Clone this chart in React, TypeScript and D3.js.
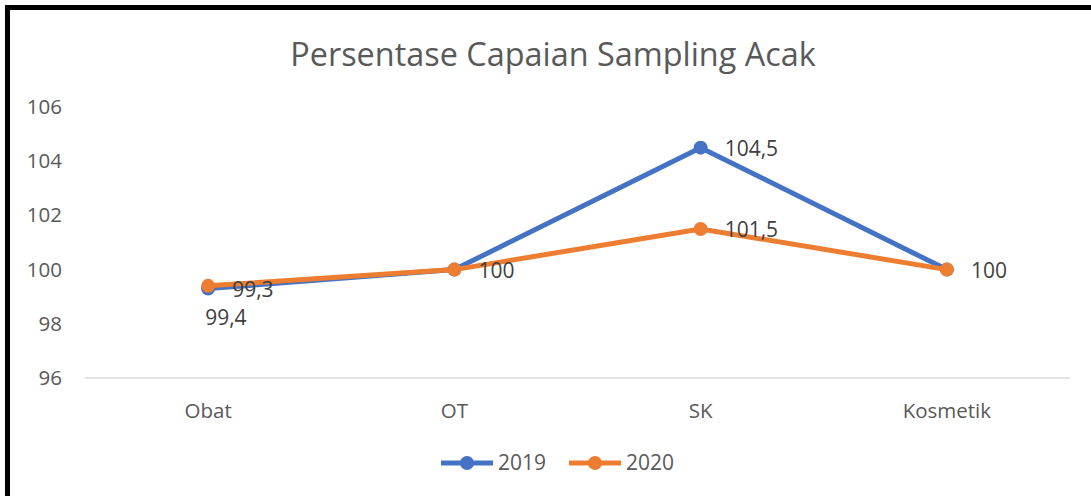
import React, { useRef, useEffect } from "react";
import * as d3 from "d3";

const categories = ["Obat", "OT", "SK", "Kosmetik"];
const values2019 = [99.3, 100, 104.5, 100];
const values2020 = [99.4, 100, 101.5, 100];
const yTicks = [96, 98, 100, 102, 104, 106];
const labels2019 = ["99,3", "100", "104,5", "100"];
const labels2020 = ["99,4", "100", "101,5", "100"];

const FONT = "'Open Sans', Lato, sans-serif";

const App = () => {
  const svgRef = useRef<SVGSVGElement>(null);

  useEffect(() => {
    const svg = d3.select(svgRef.current);
    svg.selectAll("*").remove();

    const width = 1091;
    const height = 496;

    // outer frame
    svg
      .append("rect")
      .attr("x", 7.5)
      .attr("y", 7.5)
      .attr("width", width + 20)
      .attr("height", height + 20)
      .attr("fill", "white")
      .attr("stroke", "black")
      .attr("stroke-width", 5);

    svg
      .append("text")
      .attr("x", 553)
      .attr("y", 66)
      .attr("text-anchor", "middle")
      .attr("font-family", FONT)
      .attr("font-size", 32.4)
      .attr("fill", "#595959")
      .text("Persentase Capaian Sampling Acak");

    const xScale = d3.scaleBand().domain(categories).range([85, 1070]);
    const yScale = d3.scaleLinear().domain([96, 106]).range([378, 107]);

    // baseline
    svg
      .append("line")
      .attr("x1", 85)
      .attr("x2", 1070)
      .attr("y1", yScale(96))
      .attr("y2", yScale(96))
      .attr("stroke", "#d9d9d9")
      .attr("stroke-width", 1.5);

    svg
      .selectAll(".ytick")
      .data(yTicks)
      .enter()
      .append("text")
      .attr("x", 62)
      .attr("y", (d) => yScale(d) + 7)
      .attr("text-anchor", "end")
      .attr("font-family", FONT)
      .attr("font-size", 20.5)
      .attr("fill", "#595959")
      .text((d) => d);

    svg
      .selectAll(".xtick")
      .data(categories)
      .enter()
      .append("text")
      .attr("x", (d) => xScale(d)! + xScale.bandwidth() / 2)
      .attr("y", 418)
      .attr("text-anchor", "middle")
      .attr("font-family", FONT)
      .attr("font-size", 20.5)
      .attr("fill", "#595959")
      .text((d) => d);

    const cx = (i: number) => xScale(categories[i])! + xScale.bandwidth() / 2;
    const line = d3
      .line<number>()
      .x((d, i) => cx(i))
      .y((d) => yScale(d));

    const series = [
      { values: values2019, color: "#4472c4", labels: labels2019 },
      { values: values2020, color: "#ed7d31", labels: labels2020 },
    ];

    series.forEach((s) => {
      svg
        .append("path")
        .datum(s.values)
        .attr("d", line)
        .attr("fill", "none")
        .attr("stroke", s.color)
        .attr("stroke-width", 5)
        .attr("stroke-linejoin", "round");
      svg
        .selectAll(null)
        .data(s.values)
        .enter()
        .append("circle")
        .attr("cx", (d, i) => cx(i))
        .attr("cy", (d) => yScale(d))
        .attr("r", 7)
        .attr("fill", s.color);
    });

    // data labels (skip the 2020 ones that sit exactly on a 2019 one)
    series.forEach((s, si) => {
      s.values.forEach((v, i) => {
        if (si === 1 && v === values2019[i]) return;
        const below = si === 1 && i === 0;
        svg
          .append("text")
          .attr("x", below ? cx(i) - 3 : cx(i) + 24)
          .attr("y", below ? yScale(v) + 39 : yScale(v) + 8)
          .attr("font-family", FONT)
          .attr("font-size", 21)
          .attr("fill", "#404040")
          .text(s.labels[i]);
      });
    });

    // legend
    const legend = [
      { name: "2019", color: "#4472c4", x: 441 },
      { name: "2020", color: "#ed7d31", x: 569 },
    ];
    legend.forEach((l) => {
      svg
        .append("line")
        .attr("x1", l.x)
        .attr("x2", l.x + 52)
        .attr("y1", 463)
        .attr("y2", 463)
        .attr("stroke", l.color)
        .attr("stroke-width", 5);
      svg
        .append("circle")
        .attr("cx", l.x + 26)
        .attr("cy", 463)
        .attr("r", 7)
        .attr("fill", l.color);
      svg
        .append("text")
        .attr("x", l.x + 57)
        .attr("y", 470)
        .attr("font-family", FONT)
        .attr("font-size", 21)
        .attr("fill", "#595959")
        .text(l.name);
    });
  }, []);

  return (
    <svg
      ref={svgRef}
      width={1091}
      height={496}
      style={{ position: "absolute", left: 0, top: 0, display: "block" }}
    />
  );
};

export default App;
